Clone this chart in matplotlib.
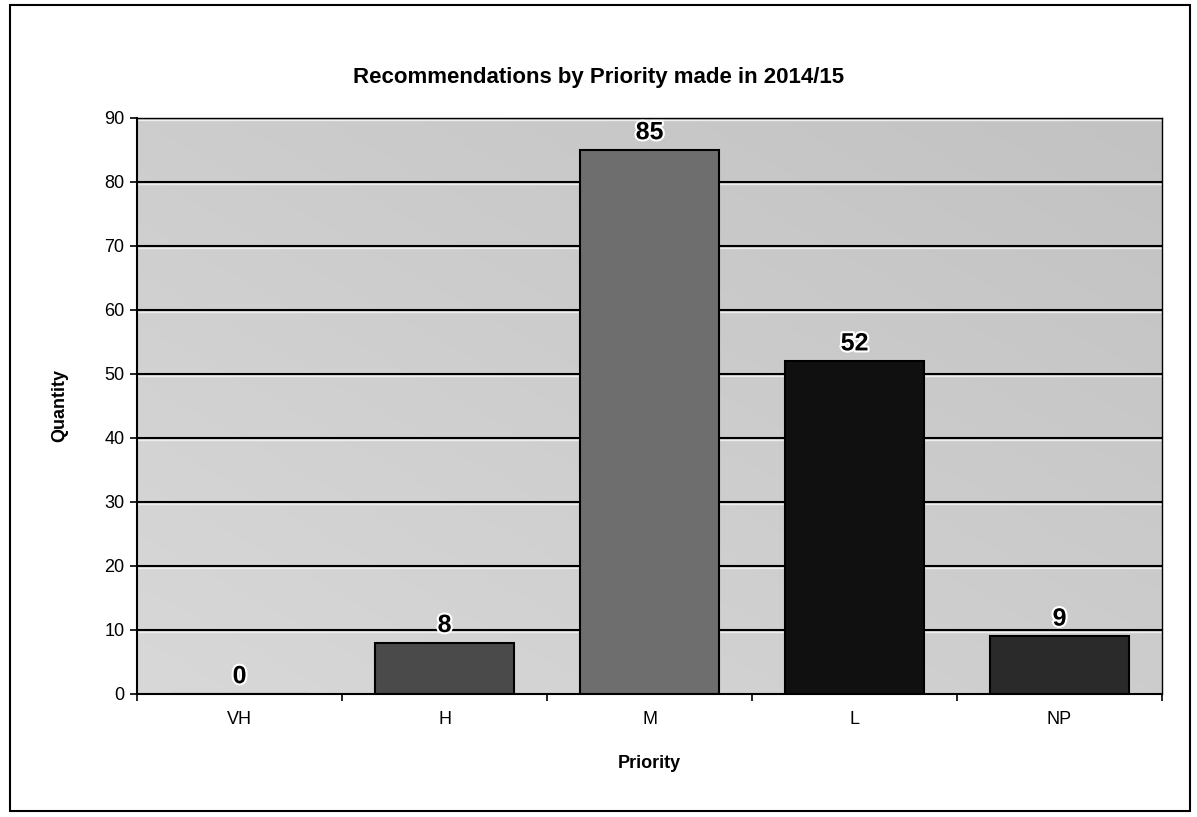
import matplotlib
matplotlib.use("Agg")
import matplotlib.pyplot as plt
import matplotlib.patheffects as pe
import numpy as np
from matplotlib.patches import Rectangle

categories = ["VH", "H", "M", "L", "NP"]
values = [0, 8, 85, 52, 9]
bar_colors = ["#555555", "#4a4a4a", "#6e6e6e", "#101010", "#2a2a2a"]
yticks = [0, 10, 20, 30, 40, 50, 60, 70, 80, 90]

plt.rcParams['font.family'] = ['Liberation Sans', 'DejaVu Sans']

fig = plt.figure(figsize=(11.97, 8.17), dpi=100)
fig.patch.set_facecolor("white")
ax = fig.add_axes([0.1145, 0.1506, 0.8563, 0.705])

# background gradient (lighter bottom-left, darker top-right)
gx, gy = np.meshgrid(np.linspace(0, 1, 200), np.linspace(0, 1, 200))
grad = 0.5 * gx + 0.5 * gy
ax.imshow(grad, extent=[-0.5, 4.5, 0, 90], origin="lower", aspect="auto",
          cmap=matplotlib.colors.LinearSegmentedColormap.from_list("g", ["#d8d8d8", "#c2c2c2"]),
          zorder=0)

ax.set_xlim(-0.5, 4.5)
ax.set_ylim(0, 90)
x = np.arange(len(categories))
for yv in yticks[1:]:
    ax.axhline(yv, color="black", lw=1.5, zorder=1)
    ax.axhline(yv - 0.35, color="#eeeeee", lw=1.0, zorder=1)

bars = ax.bar(x, values, width=0.68, color=bar_colors, edgecolor="black", linewidth=1.5, zorder=2)
for xi, v in zip(x, values):
    ax.text(xi, v + 0.9, str(v), ha="center", va="bottom", fontsize=18, fontweight="bold", zorder=3,
            path_effects=[pe.withStroke(linewidth=3, foreground="white")])

ax.set_yticks(yticks)
ax.set_yticklabels([str(t) for t in yticks], fontsize=13)
ax.set_xticks(x)
ax.set_xticklabels(categories, fontsize=13)
ax.tick_params(axis="x", which="major", length=0, pad=12)
ax.set_xticks(np.arange(-0.5, 5, 1), minor=True)
ax.tick_params(axis="x", which="minor", length=5, width=1.2, direction="out")
ax.tick_params(axis="y", length=5, width=1.2, direction="out", pad=4)

for s in ["left", "bottom"]:
    ax.spines[s].set_linewidth(1.5)
for s in ["top", "right"]:
    ax.spines[s].set_linewidth(1.0)

ax.set_xlabel("Priority", fontsize=13, fontweight="bold", labelpad=20)
ax.set_ylabel("Quantity", fontsize=13, fontweight="bold", labelpad=26)
fig.text(0.5, 1 - 78 / 817, "Recommendations by Priority made in 2014/15",
         ha="center", va="center", fontsize=16, fontweight="bold")

fig.patches.append(Rectangle((10 / 1197, 6 / 817), 1180 / 1197, 806 / 817,
                             transform=fig.transFigure, fill=False, edgecolor="black", lw=1.5))

fig.savefig("out.png", dpi=100)
